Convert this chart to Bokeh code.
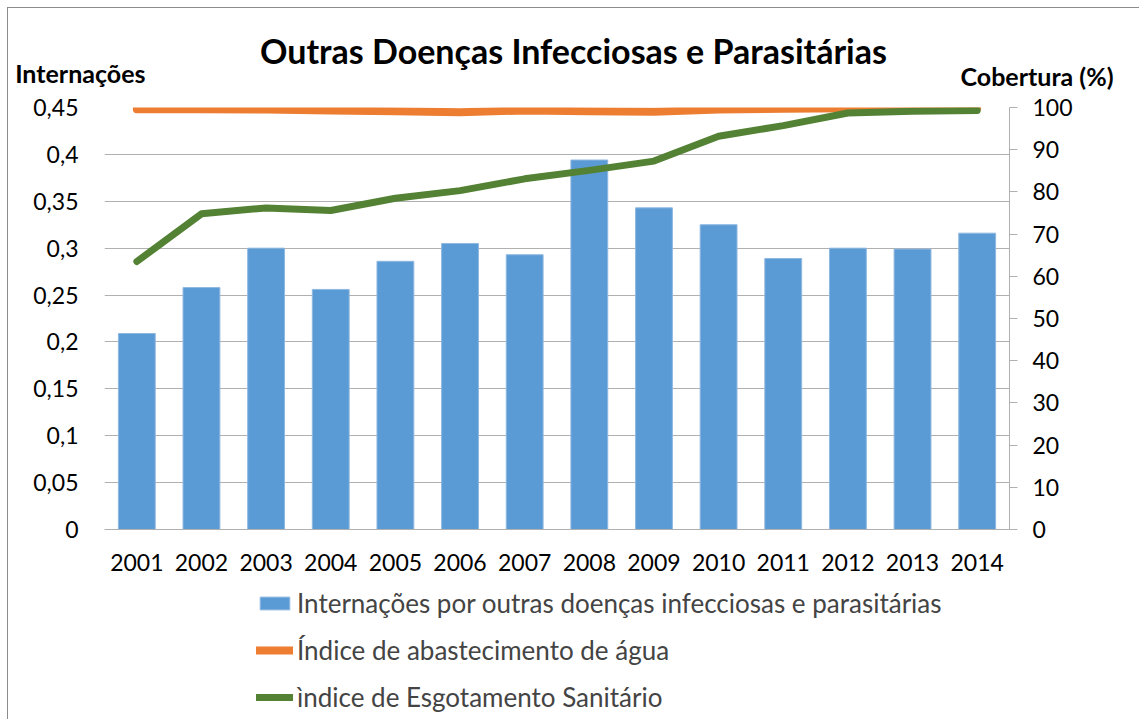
from bokeh.plotting import figure
from bokeh.layouts import column
from bokeh.models import (Range1d, LinearAxis, FixedTicker, Label, Legend,
                          LegendItem, ColumnDataSource, FactorRange)
from bokeh.embed import file_html
from bokeh.resources import INLINE

years = ["2001", "2002", "2003", "2004", "2005", "2006", "2007",
         "2008", "2009", "2010", "2011", "2012", "2013", "2014"]
internacoes = [0.209, 0.258, 0.300, 0.256, 0.286, 0.305, 0.293,
               0.394, 0.343, 0.325, 0.289, 0.300, 0.299, 0.316]
agua = [99.6, 99.6, 99.5, 99.3, 99.1, 98.9, 99.3,
        99.1, 99.0, 99.5, 99.7, 99.8, 99.9, 99.9]
esgoto = [63.5, 74.8, 76.2, 75.6, 78.5, 80.3, 83.1,
          85.1, 87.3, 93.2, 95.7, 98.7, 99.1, 99.3]

left_ticks = [0, 0.05, 0.1, 0.15, 0.2, 0.25, 0.3, 0.35, 0.4, 0.45]
left_tick_labels = ["0", "0,05", "0,1", "0,15", "0,2", "0,25", "0,3",
                    "0,35", "0,4", "0,45"]
right_ticks = [0, 10, 20, 30, 40, 50, 60, 70, 80, 90, 100]

title_text = "Outras Doenças Infecciosas e Parasitárias"
left_title = "Internações"
right_title = "Cobertura (%)"
legend_labels = ["Internações por outras doenças infecciosas e parasitárias",
                 "Índice de abastecimento de água",
                 "ìndice de Esgotamento Sanitário"]

FONT = "Lato"
BLUE = "#5B9BD5"
ORANGE = "#ED7D31"
GREEN = "#548235"
GRID = "#b0b0b0"

W = 1131
BL, BR = 96, 130          # side borders shared by all three figures
HEAD_H, MAIN_H, LEG_H = 83, 489, 139


def bare(fig):
    fig.outline_line_color = None
    fig.xgrid.visible = False
    fig.ygrid.visible = False
    fig.background_fill_color = "white"
    fig.border_fill_color = "white"


# ---------- header: title + axis titles ----------
# ranges chosen so that x / y equal page pixels (frame 104..1009, 8..91)
head = figure(width=W, height=HEAD_H, x_range=Range1d(104, 1009),
              y_range=Range1d(91, 8), output_backend="svg",
              toolbar_location=None, x_axis_type=None,
              min_border_left=BL, min_border_right=BR,
              min_border_top=0, min_border_bottom=0)
bare(head)
head.add_layout(Label(x=573, y=50, text=title_text,
                      text_font=FONT, text_font_style="bold",
                      text_font_size="34px", text_align="center",
                      text_baseline="middle", text_color="black"))

hl = head.yaxis[0]
hl.ticker = FixedTicker(ticks=[72])
hl.major_label_overrides = {72: left_title}
hl.axis_line_color = None
hl.major_tick_line_color = None
hl.minor_tick_line_color = None
hl.major_label_standoff = -47
hl.major_label_text_font = FONT
hl.major_label_text_font_style = "bold"
hl.major_label_text_font_size = "25px"
hl.major_label_text_color = "black"

hr = LinearAxis(ticker=FixedTicker(ticks=[77]))
hr.major_label_overrides = {77: right_title}
hr.axis_line_color = None
hr.major_tick_line_color = None
hr.minor_tick_line_color = None
hr.major_label_standoff = -55
hr.major_label_text_font = FONT
hr.major_label_text_font_style = "bold"
hr.major_label_text_font_size = "25px"
hr.major_label_text_color = "black"
head.add_layout(hr, "right")

# ---------- main chart ----------
src = ColumnDataSource(dict(year=years, internacoes=internacoes,
                            agua=agua, esgoto=esgoto))

p = figure(width=W, height=MAIN_H, x_range=FactorRange(*years),
           y_range=Range1d(0, 0.45), output_backend="svg",
           toolbar_location=None,
           min_border_left=BL, min_border_right=BR,
           min_border_top=16, min_border_bottom=51)
p.outline_line_color = None
p.background_fill_color = "white"
p.border_fill_color = "white"
p.extra_y_ranges = {"cob": Range1d(0, 100)}

p.vbar(x="year", top="internacoes", width=0.57, source=src,
       fill_color=BLUE, line_color="#8fb8e0", line_width=1)
p.line(x="year", y="agua", source=src, y_range_name="cob",
       line_color=ORANGE, line_width=8, line_cap="round", line_join="round")
p.line(x="year", y="esgoto", source=src, y_range_name="cob",
       line_color=GREEN, line_width=7, line_cap="round", line_join="round")

ya = p.yaxis[0]
ya.ticker = FixedTicker(ticks=left_ticks)
ya.major_label_overrides = {t: s for t, s in zip(left_ticks, left_tick_labels)}
ya.axis_line_color = None
ya.major_tick_line_color = None
ya.minor_tick_line_color = None
ya.major_label_standoff = 20
ya.major_label_text_font = FONT
ya.major_label_text_font_size = "23px"
ya.major_label_text_color = "black"

xa = p.xaxis[0]
xa.axis_line_color = GRID
xa.major_tick_line_color = None
xa.minor_tick_line_color = None
xa.major_label_standoff = 18
xa.major_label_text_font = FONT
xa.major_label_text_font_size = "23px"
xa.major_label_text_color = "black"

ra = LinearAxis(y_range_name="cob", ticker=FixedTicker(ticks=right_ticks))
ra.axis_line_color = GRID
ra.major_tick_line_color = GRID
ra.major_tick_out = 8
ra.major_tick_in = 0
ra.minor_tick_line_color = None
ra.major_label_standoff = 15
ra.major_label_text_font = FONT
ra.major_label_text_font_size = "23px"
ra.major_label_text_color = "black"
p.add_layout(ra, "right")

p.xgrid.grid_line_color = None
p.ygrid.grid_line_color = GRID
p.ygrid.ticker = FixedTicker(ticks=left_ticks)

# ---------- legend strip ----------
# same data source, but a y range far above the data so no mark shows here
leg = figure(width=W, height=LEG_H, x_range=FactorRange(*years),
             y_range=Range1d(1000, 1001), output_backend="svg",
             toolbar_location=None, x_axis_type=None, y_axis_type=None,
             min_border_left=BL, min_border_right=BR,
             min_border_top=0, min_border_bottom=0)
bare(leg)
r_bar = leg.vbar(x="year", top="internacoes", width=0.57, source=src,
                 fill_color=BLUE, line_color="#8fb8e0", line_width=1)
r_agua = leg.line(x="year", y="agua", source=src, line_color=ORANGE,
                  line_width=8, line_cap="round")
r_esg = leg.line(x="year", y="esgoto", source=src, line_color=GREEN,
                 line_width=7, line_cap="round")
legend = Legend(items=[LegendItem(label=legend_labels[0], renderers=[r_bar]),
                       LegendItem(label=legend_labels[1], renderers=[r_agua]),
                       LegendItem(label=legend_labels[2], renderers=[r_esg])],
                location=(152, 6), orientation="vertical",
                glyph_width=37, glyph_height=16, label_standoff=4,
                label_text_font=FONT, label_text_font_size="26px",
                label_height=31, spacing=15, padding=0, margin=0,
                border_line_color=None, background_fill_alpha=0)
leg.add_layout(legend, "center")

layout = column(head, p, leg, spacing=0)
layout.styles = {"margin-left": "7px", "margin-top": "7px",
                 "border-left": "1px solid #8c8c8c",
                 "border-top": "1px solid #8c8c8c"}

open("out.html", "w").write(file_html(layout, INLINE))
